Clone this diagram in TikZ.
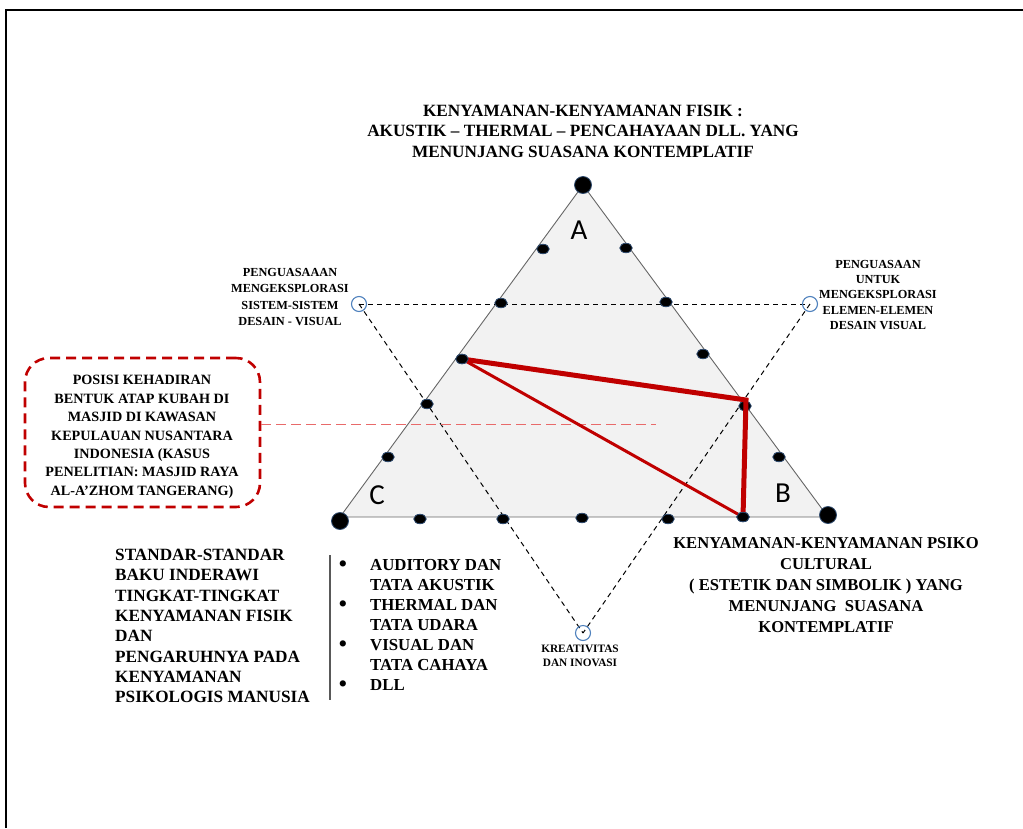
\documentclass[tikz,border=0pt]{standalone}
\usepackage{fontspec}
\setmainfont{Liberation Serif}
\newfontfamily\sansf{Carlito}
\usetikzlibrary{shapes.geometric}
\definecolor{redd}{HTML}{C00000}
\definecolor{redl}{HTML}{E86A6A}
\definecolor{blueo}{HTML}{4F81BD}
\definecolor{dotedge}{HTML}{2E4A6E}
\begin{document}
\begin{tikzpicture}[x=1pt,y=-1pt,
  dot/.style={ellipse, fill=black, draw=dotedge, line width=0.8pt, minimum width=12.5pt, minimum height=9.5pt, inner sep=0pt},
  bigdot/.style={circle, fill=black, draw=dotedge, line width=0.8pt, minimum size=17pt, inner sep=0pt},
  ocirc/.style={circle, draw=blueo, line width=1.1pt, minimum size=15pt, inner sep=0pt},
  dline/.style={dashed, dash pattern=on 5pt off 4pt, line width=1pt, black},
  lbl/.style={align=center, inner sep=0pt},
  vert/.style={font=\sansf\fontsize{29}{30}\selectfont, inner sep=0pt}
]
\useasboundingbox (0,0) rectangle (1023,828);
% frame
\draw[line width=2pt] (6,828) -- (6,10) -- (1023,10);

% title
\node[lbl, font=\bfseries\fontsize{17.2}{20.5}\selectfont] (title) at (583,131)
 {KENYAMANAN-KENYAMANAN FISIK :\\AKUSTIK -- THERMAL -- PENCAHAYAAN DLL. YANG\\MENUNJANG SUASANA KONTEMPLATIF};

% triangle
\coordinate (A) at (583,185);
\coordinate (B) at (828,517);
\coordinate (C) at (340,517);
\draw[gray!80!black, line width=0.9pt, fill=black!5] (A) -- (B) -- (C) -- cycle;

% circles positions
\coordinate (lc) at (359,304);
\coordinate (rc) at (810,304);
\coordinate (bc) at (583,633);
\draw[dline] (lc) -- (rc);
\draw[dline] (lc) -- (bc);
\draw[dline] (rc) -- (bc);

% red dashed box + horizontal line
\node[draw=redd, line width=2.6pt, dash pattern=on 10pt off 6pt, rounded corners=24pt,
      minimum width=235pt, minimum height=149pt, inner sep=0pt] (box) at (142.5,432.5) {};
\node[lbl, font=\bfseries\fontsize{14.2}{18.4}\selectfont] (boxt) at (142,437)
 {POSISI KEHADIRAN\\BENTUK ATAP KUBAH DI\\MASJID DI KAWASAN\\KEPULAUAN NUSANTARA\\INDONESIA (KASUS\\PENELITIAN: MASJID RAYA\\AL-A’ZHOM TANGERANG)};
\coordinate (hl) at (656,424);
\draw[redl, line width=1pt, dash pattern=on 10pt off 5pt] (box.east |- hl) -- (hl);

% dots on edges
\node[dot] (l1) at (543,249) {};
\node[dot] (l2) at (501,303) {};
\node[dot] (l3) at (462,359) {};
\node[dot] (l4) at (427,404) {};
\node[dot] (l5) at (388,457) {};
\node[dot] (r1) at (626,248) {};
\node[dot] (r2) at (666,302) {};
\node[dot] (r3) at (703,354) {};
\node[dot] (r4) at (745,406) {};
\node[dot] (r5) at (779,457) {};
\node[dot] (b1) at (420,519) {};
\node[dot] (b2) at (503,519) {};
\node[dot] (b3) at (582,518) {};
\node[dot] (b4) at (668,519) {};
\node[dot] (b5) at (743,517) {};

% red lines
\coordinate (p) at (746,400);
\draw[redd, line width=3pt] (l3.center) -- (b5.center);
\draw[redd, line width=5pt, line join=miter] (l3.center) -- (p) -- (b5.center);
\node[dot] at (l3) {};
\node[dot] at (b5) {};

% vertex dots
\node[bigdot] (va) at (583,185) {};
\node[bigdot] (vb) at (828,515) {};
\node[bigdot] (vc) at (340,521) {};

% open circles
\node[ocirc] (lco) at (lc) {};
\node[ocirc] (rco) at (rc) {};
\node[ocirc] (bco) at (bc) {};

% vertex letters
\node[vert] (la) at (579,230) {A};
\node[vert] (lb) at (783,493) {B};
\node[vert] (lcl) at (377,495) {C};

% side labels
\node[lbl, font=\bfseries\fontsize{12.3}{16.3}\selectfont] (ltxt) at (290,297)
 {PENGUASAAAN\\MENGEKSPLORASI\\SISTEM-SISTEM\\DESAIN - VISUAL};
\node[lbl, font=\bfseries\fontsize{12.3}{15.1}\selectfont] (rtxt) at (878,295)
 {PENGUASAAN\\UNTUK\\MENGEKSPLORASI\\ELEMEN-ELEMEN\\DESAIN VISUAL};
\node[lbl, font=\bfseries\fontsize{11.3}{14}\selectfont] (ktxt) at (580,656)
 {KREATIVITAS\\DAN INOVASI};

% bottom left block
\node[align=left, anchor=west, inner sep=0pt, font=\bfseries\fontsize{17.2}{20.3}\selectfont] (std) at (115,626)
 {STANDAR-STANDAR\\BAKU INDERAWI\\TINGKAT-TINGKAT\\KENYAMANAN FISIK\\DAN\\PENGARUHNYA PADA\\KENYAMANAN\\PSIKOLOGIS MANUSIA};
\coordinate (vt) at (330,555);
\coordinate (vb2) at (330,700);
\draw[gray!70!black, line width=1.2pt] (vt) -- (vb2);

% bullets
\node[align=left, anchor=west, inner sep=0pt, font=\bfseries\fontsize{16.8}{20}\selectfont] (bl) at (370,625)
 {AUDITORY DAN\\TATA AKUSTIK\\THERMAL DAN\\TATA UDARA\\VISUAL DAN\\TATA CAHAYA\\DLL};
\foreach \yy/\nm in {567/bu1,607/bu2,647/bu3,687/bu4}
  \node[inner sep=0pt, font=\fontsize{26}{26}\selectfont] (\nm) at (343,\yy) {•};

% bottom right block
\node[lbl, font=\bfseries\fontsize{16.6}{21}\selectfont] (psk) at (826,585)
 {KENYAMANAN-KENYAMANAN PSIKO\\CULTURAL\\( ESTETIK DAN SIMBOLIK ) YANG\\MENUNJANG\ \ SUASANA\\KONTEMPLATIF};
\end{tikzpicture}
\end{document}
